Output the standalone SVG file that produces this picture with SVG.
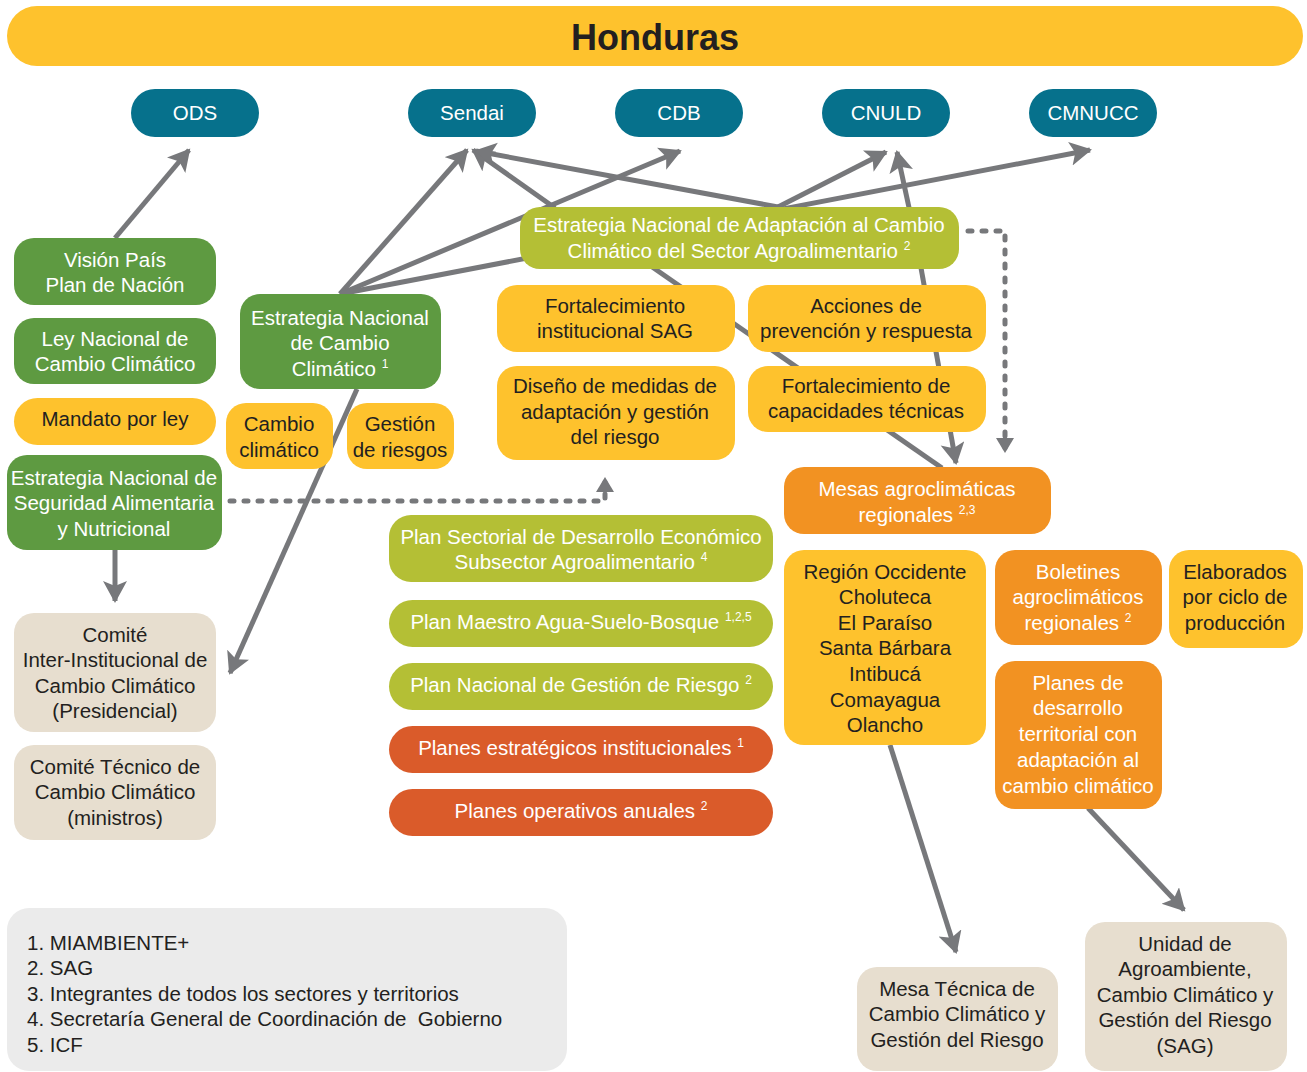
<svg xmlns="http://www.w3.org/2000/svg" width="1307" height="1072" viewBox="0 0 1307 1072">
  <defs>
    <style>
      text { font-family: "Liberation Sans", Arial, sans-serif; font-size: 20.5px; text-anchor: middle; }
      .w { fill: #ffffff; }
      .k { fill: #231f20; }
      .sup { font-size: 12px; }
      .teal { fill: #06718c; }
      .green { fill: #5e9a41; }
      .olive { fill: #b4bf35; }
      .yellow { fill: #fec22d; }
      .orange { fill: #f29222; }
      .red { fill: #da5b2a; }
      .beige { fill: #e7decf; }
      .link { fill: none; stroke: #77787b; stroke-width: 5; }
      .dot { fill: none; stroke: #77787b; stroke-width: 5; stroke-dasharray: 4 10; stroke-linecap: round; }
    </style>
    <marker id="arrow" markerUnits="userSpaceOnUse" markerWidth="26" markerHeight="26" refX="20" refY="12" orient="auto">
      <path d="M0,0 L22,12 L0,24 L5,12 z" fill="#77787b"/>
    </marker>
    <marker id="arrowDot" markerUnits="userSpaceOnUse" markerWidth="24" markerHeight="24" refX="10" refY="10" orient="auto">
      <path d="M0,1 L15,10 L0,19 z" fill="#77787b"/>
    </marker>
  </defs>

  <!-- header band -->
  <g id="header">
    <rect x="7" y="6" width="1296" height="60" rx="30" class="yellow"/>
    <text x="655" y="50" style="font-size:36px;font-weight:bold" class="k">Honduras</text>
  </g>

  <!-- connectors -->
  <g id="connectors">
    <line class="link" x1="115" y1="238" x2="189" y2="150" marker-end="url(#arrow)"/>
    <line class="link" x1="340" y1="294" x2="467" y2="150" marker-end="url(#arrow)"/>
    <line class="link" x1="340" y1="294" x2="680" y2="151" marker-end="url(#arrow)"/>
    <line class="link" x1="340" y1="294" x2="1090" y2="150" marker-end="url(#arrow)"/>
    <line class="link" x1="357" y1="389" x2="230" y2="673" marker-end="url(#arrow)"/>
    <line class="link" x1="555" y1="208" x2="473" y2="150" marker-end="url(#arrow)"/>
    <line class="link" x1="778" y1="207" x2="476" y2="151" marker-end="url(#arrow)"/>
    <line class="link" x1="778" y1="207" x2="886" y2="152" marker-end="url(#arrow)"/>
    <line class="link" x1="916" y1="240" x2="897" y2="152" marker-end="url(#arrow)"/>
    <line class="link" x1="916" y1="240" x2="956" y2="463" marker-end="url(#arrow)"/>
    <line class="link" x1="645" y1="262" x2="942" y2="468"/>
    <line class="link" x1="115" y1="550" x2="115" y2="601" marker-end="url(#arrow)"/>
    <line class="link" x1="890" y1="745" x2="956" y2="952" marker-end="url(#arrow)"/>
    <line class="link" x1="1088" y1="808" x2="1184" y2="910" marker-end="url(#arrow)"/>
    <path class="dot" d="M968,231 H1005 V448" marker-end="url(#arrowDot)"/>
    <path class="dot" d="M230,501 H605 V482" marker-end="url(#arrowDot)"/>
  </g>

  <!-- international frameworks -->
  <g id="ods"><rect x="131" y="89" width="128" height="48" rx="24" class="teal"/><text x="195" y="120" class="w">ODS</text></g>
  <g id="sendai"><rect x="408" y="89" width="128" height="48" rx="24" class="teal"/><text x="472" y="120" class="w">Sendai</text></g>
  <g id="cdb"><rect x="615" y="89" width="128" height="48" rx="24" class="teal"/><text x="679" y="120" class="w">CDB</text></g>
  <g id="cnuld"><rect x="822" y="89" width="128" height="48" rx="24" class="teal"/><text x="886" y="120" class="w">CNULD</text></g>
  <g id="cmnucc"><rect x="1029" y="89" width="128" height="48" rx="24" class="teal"/><text x="1093" y="120" class="w">CMNUCC</text></g>

  <!-- left column -->
  <g id="vision-pais">
    <rect x="14" y="238" width="202" height="67" rx="20" class="green"/>
    <text class="w"><tspan x="115" y="267">Visión País</tspan><tspan x="115" y="292">Plan de Nación</tspan></text>
  </g>
  <g id="ley-nacional">
    <rect x="14" y="318" width="202" height="66" rx="20" class="green"/>
    <text class="w"><tspan x="115" y="346">Ley Nacional de</tspan><tspan x="115" y="371">Cambio Climático</tspan></text>
  </g>
  <g id="mandato">
    <rect x="14" y="398" width="202" height="47" rx="23.5" class="yellow"/>
    <text x="115" y="426" class="k">Mandato por ley</text>
  </g>
  <g id="ensan">
    <rect x="7" y="455" width="215" height="95" rx="20" class="green"/>
    <text class="w"><tspan x="114" y="485">Estrategia Nacional de</tspan><tspan x="114" y="510">Seguridad Alimentaria</tspan><tspan x="114" y="536">y Nutricional</tspan></text>
  </g>
  <g id="comite-inter">
    <rect x="14" y="613" width="202" height="119" rx="20" class="beige"/>
    <text class="k"><tspan x="115" y="642">Comité</tspan><tspan x="115" y="667">Inter-Institucional de</tspan><tspan x="115" y="693">Cambio Climático</tspan><tspan x="115" y="718">(Presidencial)</tspan></text>
  </g>
  <g id="comite-tecnico">
    <rect x="14" y="745" width="202" height="95" rx="20" class="beige"/>
    <text class="k"><tspan x="115" y="774">Comité Técnico de</tspan><tspan x="115" y="799">Cambio Climático</tspan><tspan x="115" y="825">(ministros)</tspan></text>
  </g>

  <!-- national climate strategy -->
  <g id="encc">
    <rect x="240" y="294" width="201" height="95" rx="20" class="green"/>
    <text class="w"><tspan x="340" y="325">Estrategia Nacional</tspan><tspan x="340" y="350">de Cambio</tspan><tspan x="340" y="376">Climático <tspan class="sup" dy="-8">1</tspan></tspan></text>
  </g>
  <g id="cambio-climatico">
    <rect x="226" y="403" width="107" height="66" rx="20" class="yellow"/>
    <text class="k"><tspan x="279" y="431">Cambio</tspan><tspan x="279" y="457">climático</tspan></text>
  </g>
  <g id="gestion-riesgos">
    <rect x="347" y="403" width="107" height="66" rx="20" class="yellow"/>
    <text class="k"><tspan x="400" y="431">Gestión</tspan><tspan x="400" y="457">de riesgos</tspan></text>
  </g>

  <!-- agri-food adaptation strategy -->
  <g id="ena">
    <rect x="520" y="207" width="439" height="62" rx="20" class="olive"/>
    <text class="w"><tspan x="739" y="232">Estrategia Nacional de Adaptación al Cambio</tspan><tspan x="739" y="258">Climático del Sector Agroalimentario <tspan class="sup" dy="-8">2</tspan></tspan></text>
  </g>
  <g id="fortalecimiento-sag">
    <rect x="497" y="285" width="238" height="67" rx="20" class="yellow"/>
    <text class="k"><tspan x="615" y="313">Fortalecimiento</tspan><tspan x="615" y="338">institucional SAG</tspan></text>
  </g>
  <g id="acciones">
    <rect x="748" y="285" width="238" height="67" rx="20" class="yellow"/>
    <text class="k"><tspan x="866" y="313">Acciones de</tspan><tspan x="866" y="338">prevención y respuesta</tspan></text>
  </g>
  <g id="diseno">
    <rect x="497" y="366" width="238" height="94" rx="20" class="yellow"/>
    <text class="k"><tspan x="615" y="393">Diseño de medidas de</tspan><tspan x="615" y="419">adaptación y gestión</tspan><tspan x="615" y="444">del riesgo</tspan></text>
  </g>
  <g id="capacidades">
    <rect x="748" y="366" width="238" height="66" rx="20" class="yellow"/>
    <text class="k"><tspan x="866" y="393">Fortalecimiento de</tspan><tspan x="866" y="418">capacidades técnicas</tspan></text>
  </g>
  <g id="mesas">
    <rect x="784" y="467" width="267" height="67" rx="20" class="orange"/>
    <text class="w"><tspan x="917" y="496">Mesas agroclimáticas</tspan><tspan x="917" y="522">regionales <tspan class="sup" dy="-8">2,3</tspan></tspan></text>
  </g>

  <!-- sector plans -->
  <g id="plan-sectorial">
    <rect x="389" y="515" width="384" height="67" rx="22" class="olive"/>
    <text class="w"><tspan x="581" y="544">Plan Sectorial de Desarrollo Económico</tspan><tspan x="581" y="569">Subsector Agroalimentario <tspan class="sup" dy="-8">4</tspan></tspan></text>
  </g>
  <g id="plan-maestro">
    <rect x="389" y="600" width="384" height="47" rx="23.5" class="olive"/>
    <text x="581" y="629" class="w">Plan Maestro Agua-Suelo-Bosque <tspan class="sup" dy="-8">1,2,5</tspan></text>
  </g>
  <g id="plan-riesgo">
    <rect x="389" y="663" width="384" height="47" rx="23.5" class="olive"/>
    <text x="581" y="692" class="w">Plan Nacional de Gestión de Riesgo <tspan class="sup" dy="-8">2</tspan></text>
  </g>
  <g id="planes-estrategicos">
    <rect x="389" y="726" width="384" height="47" rx="23.5" class="red"/>
    <text x="581" y="755" class="w">Planes estratégicos institucionales <tspan class="sup" dy="-8">1</tspan></text>
  </g>
  <g id="planes-operativos">
    <rect x="389" y="789" width="384" height="47" rx="23.5" class="red"/>
    <text x="581" y="818" class="w">Planes operativos anuales <tspan class="sup" dy="-8">2</tspan></text>
  </g>

  <!-- regional level -->
  <g id="regiones">
    <rect x="784" y="550" width="202" height="195" rx="20" class="yellow"/>
    <text class="k"><tspan x="885" y="579">Región Occidente</tspan><tspan x="885" y="604">Choluteca</tspan><tspan x="885" y="630">El Paraíso</tspan><tspan x="885" y="655">Santa Bárbara</tspan><tspan x="885" y="681">Intibucá</tspan><tspan x="885" y="707">Comayagua</tspan><tspan x="885" y="732">Olancho</tspan></text>
  </g>
  <g id="boletines">
    <rect x="995" y="550" width="167" height="95" rx="20" class="orange"/>
    <text class="w"><tspan x="1078" y="579">Boletines</tspan><tspan x="1078" y="604">agroclimáticos</tspan><tspan x="1078" y="630">regionales <tspan class="sup" dy="-8">2</tspan></tspan></text>
  </g>
  <g id="elaborados">
    <rect x="1169" y="550" width="134" height="98" rx="20" class="yellow"/>
    <text class="k"><tspan x="1235" y="579">Elaborados</tspan><tspan x="1235" y="604">por ciclo de</tspan><tspan x="1235" y="630">producción</tspan></text>
  </g>
  <g id="planes-desarrollo">
    <rect x="995" y="661" width="167" height="148" rx="20" class="orange"/>
    <text class="w"><tspan x="1078" y="690">Planes de</tspan><tspan x="1078" y="715">desarrollo</tspan><tspan x="1078" y="741">territorial con</tspan><tspan x="1078" y="767">adaptación al</tspan><tspan x="1078" y="793">cambio climático</tspan></text>
  </g>
  <g id="mesa-tecnica">
    <rect x="857" y="967" width="201" height="104" rx="20" class="beige"/>
    <text class="k"><tspan x="957" y="996">Mesa Técnica de</tspan><tspan x="957" y="1021">Cambio Climático y</tspan><tspan x="957" y="1047">Gestión del Riesgo</tspan></text>
  </g>
  <g id="unidad-agroambiente">
    <rect x="1085" y="922" width="202" height="149" rx="20" class="beige"/>
    <text class="k"><tspan x="1185" y="951">Unidad de</tspan><tspan x="1185" y="976">Agroambiente,</tspan><tspan x="1185" y="1002">Cambio Climático y</tspan><tspan x="1185" y="1027">Gestión del Riesgo</tspan><tspan x="1185" y="1053">(SAG)</tspan></text>
  </g>

  <!-- footnote key -->
  <g id="legend">
    <rect x="7" y="908" width="560" height="163" rx="22" fill="#ebebeb"/>
    <text class="k" style="text-anchor:start"><tspan x="27" y="950">1. MIAMBIENTE+</tspan><tspan x="27" y="975">2. SAG</tspan><tspan x="27" y="1001">3. Integrantes de todos los sectores y territorios</tspan><tspan x="27" y="1026">4. Secretaría General de Coordinación de &#160;Gobierno</tspan><tspan x="27" y="1052">5. ICF</tspan></text>
  </g>
</svg>
